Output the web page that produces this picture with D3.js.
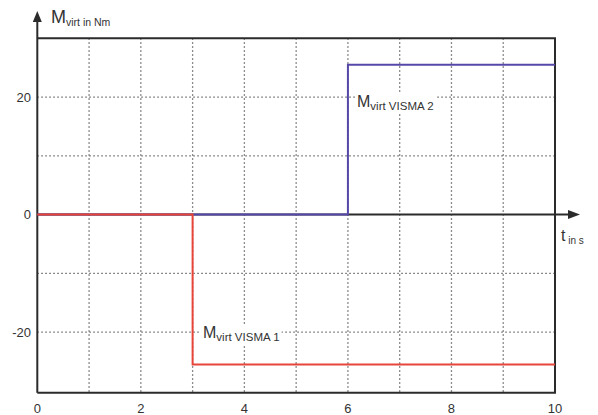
<!DOCTYPE html>
<html>
<head>
<meta charset="utf-8">
<script src="https://cdn.jsdelivr.net/npm/d3@7"></script>
<style>
  html, body { margin: 0; padding: 0; background: #fff; }
  svg { display: block; font-family: "Liberation Sans", Arial, sans-serif; }
</style>
</head>
<body>
<svg id="chart" width="598" height="415"></svg>
<script>
// Time axis (s) and step torque signals (Nm)
const xTicks = [0, 2, 4, 6, 8, 10];
const yTicks = [-20, 0, 20];
const xGrid = [1, 2, 3, 4, 5, 6, 7, 8, 9];
const yGrid = [-20, -10, 10, 20];

const tVisma1 = [0, 3, 3, 10];
const mVisma1 = [0, 0, -25.5, -25.5];
const tVisma2 = [0, 6, 6, 10];
const mVisma2 = [0, 0, 25.5, 25.5];

const svg = d3.select("#chart");
const plotL = 37.3, plotR = 555, plotT = 38.3, plotB = 392.7;

const x = d3.scaleLinear().domain([0, 10]).range([plotL, plotR]);
const y = d3.scaleLinear().domain([-30.3, 30]).range([plotB, plotT]);

const gridColor = "#666";
const axisColor = "#2b2b2b";

// dotted grid
svg.append("g").selectAll("line").data(xGrid).join("line")
  .attr("x1", d => x(d)).attr("x2", d => x(d))
  .attr("y1", plotT).attr("y2", plotB)
  .attr("stroke", gridColor).attr("stroke-width", 1.3)
  .attr("stroke-dasharray", "1.5,2.5");
svg.append("g").selectAll("line").data(yGrid).join("line")
  .attr("x1", plotL).attr("x2", plotR)
  .attr("y1", d => y(d)).attr("y2", d => y(d))
  .attr("stroke", gridColor).attr("stroke-width", 1.3)
  .attr("stroke-dasharray", "1.5,2.5");

// frame: top, right and bottom edges
svg.append("path")
  .attr("d", `M${plotL},${plotT}H${plotR}V${plotB}H${plotL}`)
  .attr("fill", "none").attr("stroke", axisColor).attr("stroke-width", 2);

// y axis with arrow
svg.append("line")
  .attr("x1", plotL).attr("x2", plotL).attr("y1", plotB).attr("y2", 20)
  .attr("stroke", axisColor).attr("stroke-width", 2);
svg.append("path")
  .attr("d", `M${plotL},11L${plotL - 4.5},22L${plotL + 4.5},22Z`)
  .attr("fill", axisColor);

// x axis (t) at zero with arrow
svg.append("line")
  .attr("x1", plotL).attr("x2", 570).attr("y1", y(0)).attr("y2", y(0))
  .attr("stroke", axisColor).attr("stroke-width", 2);
svg.append("path")
  .attr("d", `M580,${y(0)}L568,${y(0) - 4.5}L568,${y(0) + 4.5}Z`)
  .attr("fill", axisColor);

// signals
const line = d3.line().x(d => x(d[0])).y(d => y(d[1]));
svg.append("path")
  .datum(d3.zip(tVisma2, mVisma2))
  .attr("d", line).attr("fill", "none")
  .attr("stroke", "#5548a8").attr("stroke-width", 2);
svg.append("path")
  .datum(d3.zip(tVisma1, mVisma1))
  .attr("d", line).attr("fill", "none")
  .attr("stroke", "#e8453a").attr("stroke-width", 2);

// tick labels
svg.append("g").selectAll("text").data(xTicks).join("text")
  .attr("x", d => x(d)).attr("y", 413)
  .attr("text-anchor", "middle").attr("font-size", 13).attr("fill", "#333")
  .text(d => d);
svg.append("g").selectAll("text").data(yTicks).join("text")
  .attr("x", 31).attr("y", d => y(d) + 4.5)
  .attr("text-anchor", "end").attr("font-size", 13).attr("fill", "#333")
  .text(d => d);

// labels with subscripts
function label(px, py, main, sub, mainSize, subSize, bg) {
  const g = svg.append("g");
  const t = g.append("text").attr("x", px).attr("y", py).attr("fill", "#333");
  t.append("tspan").attr("font-size", mainSize).text(main);
  t.append("tspan").attr("font-size", subSize).attr("dy", 3).text(sub);
  if (bg) {
    const b = t.node().getBBox();
    g.insert("rect", "text")
      .attr("x", b.x - 2).attr("y", b.y).attr("width", b.width + 4).attr("height", b.height + 2)
      .attr("fill", "#fff");
  }
}
label(51, 23, "M", "virt  in Nm", 18, 10.5, false);
label(561, 241, "t", " in s", 16, 10, false);
label(357, 107, "M", "virt VISMA 2", 16, 11.5, true);
label(203, 338, "M", "virt VISMA 1", 16, 11.5, true);
</script>
</body>
</html>
